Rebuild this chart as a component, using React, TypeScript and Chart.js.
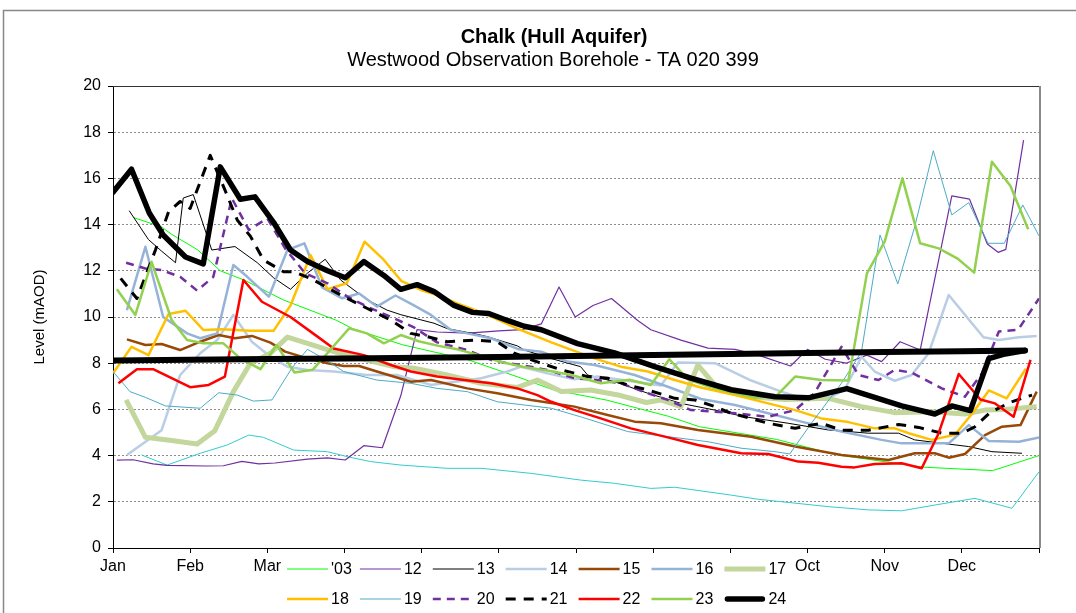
import React, { useEffect, useRef } from 'react';
import { Chart, registerables } from 'chart.js';

Chart.register(...registerables);

const FONT = '"Liberation Sans", Arial, sans-serif';

const MONTHS = ['Jan', 'Feb', 'Mar', 'Apr', 'May', 'Jun', 'Jul', 'Aug', 'Sep', 'Oct', 'Nov', 'Dec'];
const TITLE = 'Chalk (Hull Aquifer)';
const SUBTITLE = 'Westwood Observation Borehole - TA 020 399';
const Y_LABEL = 'Level (mAOD)';

// Each series: [position in months from 1 Jan, level in mAOD]
const s03: number[][] = [[0.27,14.3],[0.63,13.9],[0.75,13.6],[1.1,12.9],[1.39,12.0],[1.7,11.6],[2.2,10.75],[2.9,9.85],[3.1,9.5],[3.75,8.8],[4.6,8.15],[5.25,7.4],[5.7,6.85],[6.4,6.4],[7.2,5.7],[7.6,5.25],[8.6,4.7],[9.3,4.1],[9.45,4.0],[10.5,3.5],[11.4,3.35],[12.0,4.0]];
const s12: number[][] = [[0.05,3.8],[0.26,3.82],[0.52,3.64],[0.7,3.58],[1.22,3.55],[1.43,3.56],[1.67,3.75],[1.89,3.64],[2.1,3.68],[2.52,3.85],[2.78,3.9],[3.01,3.81],[3.25,4.43],[3.49,4.34],[3.73,6.6],[3.94,9.45],[4.2,9.35],[4.6,9.3],[5.0,9.4],[5.3,9.45],[5.55,9.7],[5.78,11.3],[5.99,10.0],[6.22,10.5],[6.46,10.8],[6.8,9.85],[6.97,9.45],[7.36,9.0],[7.71,8.65],[8.06,8.6],[8.36,8.35],[8.78,7.88],[9.0,8.6],[9.23,8.17],[9.5,8.0],[9.77,8.35],[9.96,8.07],[10.2,8.93],[10.46,8.57],[10.87,15.24],[11.1,15.1],[11.33,13.16],[11.47,12.8],[11.57,12.93],[11.8,17.66]];
const s13: number[][] = [[0.21,14.6],[0.46,13.35],[0.63,12.85],[0.81,12.35],[0.91,15.15],[1.04,15.3],[1.28,12.9],[1.58,13.05],[1.87,12.35],[2.08,11.7],[2.3,11.2],[2.52,11.9],[2.75,12.5],[2.95,11.6],[3.29,10.75],[3.55,10.3],[3.73,10.1],[4.16,9.73],[4.33,9.5],[4.72,9.25],[4.85,9.15],[5.24,8.75],[5.33,8.57],[5.68,8.2],[6.06,7.85],[6.15,7.49],[6.5,7.2],[6.93,6.7],[7.36,6.26],[7.8,5.97],[8.19,5.68],[8.75,5.4],[9.27,5.11],[9.79,4.97],[10.18,4.97],[10.39,4.68],[11.09,4.39],[11.39,4.17],[11.78,4.1]];
const s14: number[][] = [[0.18,4.03],[0.63,5.1],[0.87,7.49],[1.13,8.43],[1.35,9.0],[1.56,10.09],[1.8,8.93],[2.04,8.28],[2.26,7.85],[2.52,7.71],[2.86,7.64],[3.29,7.49],[3.68,7.49],[4.12,7.06],[4.77,7.35],[5.11,7.64],[5.29,7.85],[5.63,7.56],[5.98,7.3],[6.28,7.42],[6.76,7.2],[7.1,7.03],[7.32,8.03],[7.8,8.0],[8.27,7.25],[8.66,6.77],[9.01,6.41],[9.27,6.48],[9.48,6.85],[9.7,8.28],[9.87,7.64],[10.13,7.24],[10.35,7.49],[10.57,8.43],[10.83,10.95],[11.28,9.12],[11.48,9.0],[11.74,9.12],[11.97,9.18]];
const s15: number[][] = [[0.18,9.03],[0.42,8.79],[0.63,8.83],[0.87,8.57],[1.13,8.93],[1.37,9.22],[1.58,9.08],[1.8,9.18],[2.04,8.89],[2.23,8.5],[2.52,8.21],[2.78,8.0],[2.99,7.88],[3.19,7.88],[3.42,7.64],[3.86,7.2],[4.12,7.27],[4.59,6.91],[4.98,6.7],[5.42,6.41],[5.98,6.12],[6.41,5.76],[6.76,5.47],[7.1,5.4],[7.58,5.11],[8.27,4.82],[8.84,4.39],[9.44,4.03],[10.05,3.81],[10.39,4.1],[10.65,4.1],[10.83,3.91],[11.04,4.07],[11.3,4.89],[11.52,5.25],[11.76,5.32],[11.97,6.77]];
const s16: number[][] = [[0.18,10.3],[0.42,13.04],[0.65,10.0],[0.96,9.29],[1.13,9.08],[1.35,9.29],[1.56,12.25],[1.74,11.74],[2.02,10.88],[2.26,12.9],[2.48,13.19],[2.71,11.28],[2.97,10.81],[3.19,11.02],[3.42,10.45],[3.66,10.93],[3.9,10.5],[4.12,10.09],[4.38,9.44],[4.59,9.29],[4.9,9.08],[5.26,8.6],[5.55,8.5],[5.89,8.07],[6.24,7.92],[6.76,7.49],[7.19,6.98],[7.62,6.45],[8.06,6.19],[8.49,5.83],[8.92,5.47],[9.44,5.04],[9.96,4.68],[10.22,4.53],[10.83,4.53],[11.09,5.32],[11.35,4.63],[11.74,4.6],[12.0,4.79]];
const s17: number[][] = [[0.17,6.41],[0.42,4.79],[0.76,4.65],[1.09,4.5],[1.32,5.08],[1.56,6.77],[1.78,8.0],[2.04,8.43],[2.26,9.13],[2.52,8.86],[2.86,8.5],[3.29,8.14],[3.64,7.85],[3.9,7.78],[4.33,7.49],[4.77,7.13],[5.24,6.95],[5.5,7.27],[5.81,6.77],[6.19,6.84],[6.58,6.6],[6.91,6.3],[7.1,6.41],[7.36,6.12],[7.58,7.92],[7.84,6.9],[8.27,6.55],[8.71,6.43],[9.27,6.48],[9.7,6.12],[10.13,5.86],[10.61,5.9],[11.04,5.8],[11.3,5.97],[11.56,6.0],[11.97,6.12]];
const s18: number[][] = [[0.0,7.56],[0.24,8.71],[0.46,8.35],[0.72,10.13],[0.94,10.27],[1.17,9.44],[1.41,9.47],[1.78,9.41],[2.08,9.4],[2.3,10.5],[2.56,12.68],[2.78,11.2],[3.03,11.46],[3.26,13.26],[3.51,12.47],[3.74,11.55],[3.99,11.17],[4.2,10.95],[4.46,10.59],[4.81,10.16],[5.24,9.5],[5.68,8.9],[6.24,8.21],[6.58,7.85],[6.93,7.64],[7.28,7.27],[7.62,6.95],[8.06,6.62],[8.49,6.26],[8.84,5.97],[9.18,5.61],[9.53,5.45],[9.87,5.18],[10.13,5.18],[10.31,4.97],[10.61,4.68],[10.91,4.9],[11.13,5.8],[11.35,6.82],[11.58,6.48],[11.83,7.76]];
const s19: number[][] = [[0.0,7.64],[0.22,6.77],[0.42,6.52],[0.68,6.15],[1.13,6.05],[1.37,6.72],[1.61,6.62],[1.82,6.36],[2.06,6.41],[2.32,7.8],[2.52,8.6],[2.73,8.2],[2.99,7.64],[3.42,7.27],[3.86,7.13],[4.2,6.91],[4.59,6.77],[4.98,6.33],[5.33,6.19],[5.68,6.05],[6.06,5.68],[6.67,5.04],[7.02,4.89],[7.36,4.75],[7.71,4.6],[8.14,4.32],[8.58,4.17],[8.77,4.07],[9.05,5.4],[9.44,7.13],[9.7,8.5],[9.94,13.55],[10.17,11.43],[10.39,13.91],[10.63,17.2],[10.87,14.42],[11.09,14.95],[11.34,13.19],[11.55,13.19],[11.79,14.85],[12.0,13.51]];
const s20: number[][] = [[0.17,12.35],[0.42,12.1],[0.63,12.03],[0.87,11.74],[1.09,11.14],[1.3,11.74],[1.54,15.14],[1.76,13.77],[2.0,14.27],[2.23,12.97],[2.49,11.89],[2.78,11.46],[3.04,10.88],[3.29,10.45],[3.57,10.05],[3.9,9.55],[4.2,8.9],[4.59,8.57],[4.9,8.14],[5.11,8.0],[5.29,7.92],[5.63,7.71],[5.98,7.35],[6.28,7.27],[6.58,7.13],[6.93,6.7],[7.19,6.41],[7.49,5.97],[7.8,5.9],[8.06,5.83],[8.49,5.68],[8.84,5.97],[9.09,6.7],[9.44,8.71],[9.66,7.49],[9.92,7.27],[10.13,7.71],[10.35,7.59],[10.74,6.91],[11.04,6.55],[11.26,7.56],[11.48,9.37],[11.73,9.45],[12.0,10.8]];
const s21: number[][] = [[0.1,11.67],[0.31,10.8],[0.55,12.9],[0.72,14.56],[0.87,15.0],[1.0,14.7],[1.26,17.0],[1.45,15.5],[1.61,14.2],[1.78,13.5],[1.95,12.47],[2.21,11.96],[2.34,11.96],[2.56,11.67],[2.99,10.88],[3.29,10.38],[3.6,9.87],[3.86,9.29],[4.07,9.15],[4.33,8.93],[4.72,9.0],[4.98,8.93],[5.2,8.43],[5.46,8.1],[5.81,7.71],[6.15,7.42],[6.41,7.35],[6.67,7.06],[6.93,6.84],[7.28,6.48],[7.54,6.41],[7.8,6.12],[8.01,5.83],[8.19,5.68],[8.49,5.4],[8.84,5.18],[9.18,5.4],[9.44,5.1],[9.79,5.1],[10.18,5.35],[10.44,5.22],[10.74,4.97],[11.0,4.97],[11.17,5.25],[11.36,5.85],[11.62,6.3],[11.91,6.62]];
const s22: number[][] = [[0.07,7.13],[0.31,7.74],[0.52,7.74],[0.76,7.35],[1.0,6.96],[1.24,7.06],[1.45,7.42],[1.69,11.6],[1.93,10.66],[2.3,10.0],[2.65,9.15],[2.86,8.64],[3.25,8.35],[3.6,7.92],[3.86,7.64],[4.2,7.42],[4.55,7.27],[4.9,7.13],[5.24,6.91],[5.5,6.62],[5.68,6.33],[5.98,5.97],[6.32,5.61],[6.71,5.18],[7.15,4.82],[7.58,4.46],[8.14,4.1],[8.49,4.07],[8.88,3.74],[9.14,3.69],[9.44,3.52],[9.61,3.49],[9.87,3.64],[10.22,3.67],[10.48,3.45],[10.7,4.97],[10.96,7.53],[11.24,6.43],[11.43,6.26],[11.67,5.68],[11.89,8.14]];
const s23: number[][] = [[0.05,11.2],[0.29,10.09],[0.5,12.39],[0.76,9.87],[0.96,9.0],[1.17,8.86],[1.43,8.86],[1.65,8.21],[1.91,7.74],[2.12,8.79],[2.35,7.6],[2.59,7.72],[2.84,8.67],[3.06,9.51],[3.29,9.29],[3.51,8.86],[3.73,9.22],[3.96,8.95],[4.22,8.75],[4.46,8.6],[4.74,8.35],[5.03,8.05],[5.31,7.85],[5.68,7.65],[5.94,7.49],[6.32,7.13],[6.69,7.28],[6.97,7.06],[7.21,8.17],[7.45,7.3],[7.71,7.0],[7.97,6.77],[8.32,6.5],[8.6,6.6],[8.84,7.42],[9.18,7.27],[9.53,7.25],[9.77,11.89],[10.0,13.26],[10.23,16.0],[10.46,13.19],[10.7,12.97],[10.94,12.54],[11.16,11.92],[11.39,16.72],[11.63,15.67],[11.86,13.8]];
const s24: number[][] = [[0.0,15.4],[0.24,16.4],[0.47,14.5],[0.65,13.55],[0.94,12.6],[1.17,12.3],[1.39,16.5],[1.65,15.1],[1.84,15.2],[2.08,14.1],[2.3,12.9],[2.52,12.4],[2.78,12.0],[3.01,11.7],[3.25,12.4],[3.51,11.8],[3.73,11.2],[3.94,11.4],[4.16,11.1],[4.42,10.5],[4.66,10.2],[4.87,10.15],[5.11,9.85],[5.33,9.6],[5.55,9.45],[6.02,8.85],[6.5,8.45],[7.02,7.85],[7.49,7.35],[8.01,6.85],[8.58,6.55],[9.01,6.5],[9.51,6.9],[10.22,6.15],[10.65,5.8],[10.87,6.15],[11.11,5.95],[11.35,8.2],[11.56,8.4],[11.82,8.55]];
const sLow: number[][] = [[0.37,4.03],[0.7,3.59],[1.13,4.1],[1.48,4.46],[1.76,4.89],[1.95,4.79],[2.34,4.24],[2.78,4.17],[3.04,3.95],[3.34,3.74],[3.73,3.59],[4.33,3.45],[4.77,3.45],[5.42,3.23],[6.06,2.94],[6.5,2.8],[6.97,2.58],[7.28,2.63],[8.01,2.29],[8.36,2.11],[9.27,1.79],[9.79,1.65],[10.22,1.61],[10.65,1.86],[11.17,2.15],[11.65,1.72],[12.0,3.3]];
const sAvg: number[][] = [[0,8.12],[1,8.15],[2,8.18],[3,8.2],[4,8.24],[5,8.27],[6,8.31],[7,8.36],[8,8.4],[9,8.44],[10,8.48],[11,8.52],[11.82,8.55]];

type Style = { label: string; data: number[][]; color: string; width: number; dash?: number[]; cap?: CanvasLineCap; legend: boolean };

const SERIES: Style[] = [
  { label: 'low', data: sLow, color: '#33CCCC', width: 1, legend: false },
  { label: "'03", data: s03, color: '#00FF00', width: 1, legend: true },
  { label: '12', data: s12, color: '#7030A0', width: 1.2, legend: true },
  { label: '13', data: s13, color: '#000000', width: 1, legend: true },
  { label: '14', data: s14, color: '#B9CDE5', width: 2.5, legend: true },
  { label: '15', data: s15, color: '#984807', width: 2.5, legend: true },
  { label: '16', data: s16, color: '#95B3D7', width: 2.5, legend: true },
  { label: '17', data: s17, color: '#C3D69B', width: 5, legend: true },
  { label: '18', data: s18, color: '#FFC000', width: 2.5, legend: true },
  { label: '19', data: s19, color: '#4BACC6', width: 1, legend: true },
  { label: '20', data: s20, color: '#7030A0', width: 2.5, dash: [8, 6], legend: true },
  { label: '21', data: s21, color: '#000000', width: 3, dash: [10, 8], legend: true },
  { label: '22', data: s22, color: '#FF0000', width: 2.5, legend: true },
  { label: '23', data: s23, color: '#92D050', width: 2.5, legend: true },
  { label: 'avg', data: sAvg, color: '#000000', width: 6, cap: 'round', legend: false },
  { label: '24', data: s24, color: '#000000', width: 5.5, cap: 'round', legend: true },
];

const decor = {
  id: 'decor',
  beforeDraw(chart: any) {
    const ctx = chart.ctx;
    ctx.save();
    ctx.fillStyle = '#ffffff';
    ctx.fillRect(0, 0, chart.width, chart.height);
    ctx.restore();
  },
  afterDraw(chart: any) {
    const ctx: CanvasRenderingContext2D = chart.ctx;
    const a = chart.chartArea;
    ctx.save();
    // outer frame
    ctx.strokeStyle = '#888888';
    ctx.lineWidth = 1.5;
    ctx.beginPath();
    ctx.moveTo(3.5, chart.height);
    ctx.lineTo(3.5, 10.5);
    ctx.lineTo(chart.width, 10.5);
    ctx.stroke();
    // plot border
    ctx.strokeStyle = '#333333';
    ctx.lineWidth = 1;
    ctx.beginPath();
    ctx.moveTo(a.left, a.top + 0.5);
    ctx.lineTo(a.right, a.top + 0.5);
    ctx.stroke();
    ctx.strokeStyle = '#8a8a8a';
    ctx.lineWidth = 2;
    ctx.beginPath();
    ctx.moveTo(a.right + 1, a.top);
    ctx.lineTo(a.right + 1, a.bottom);
    ctx.stroke();
    // titles
    ctx.fillStyle = '#000000';
    ctx.textAlign = 'center';
    ctx.textBaseline = 'middle';
    ctx.font = `bold 20px ${FONT}`;
    ctx.fillText(TITLE, 554, 37);
    ctx.font = `20px ${FONT}`;
    ctx.fillText(SUBTITLE, 553, 60);
    // y axis title
    ctx.save();
    ctx.translate(40, 317);
    ctx.rotate(-Math.PI / 2);
    ctx.font = `15px ${FONT}`;
    ctx.fillText(Y_LABEL, 0, 0);
    ctx.restore();
    // legend
    ctx.fillStyle = '#ffffff';
    ctx.fillRect(284, 556, 507, 57);
    const items = SERIES.filter((s) => s.legend);
    items.forEach((s, i) => {
      const col = i % 7;
      const row = Math.floor(i / 7);
      const x0 = 287 + col * 72.9;
      const y = row === 0 ? 569 : 599;
      ctx.save();
      ctx.strokeStyle = s.color;
      ctx.lineWidth = s.width;
      ctx.lineCap = s.cap || 'butt';
      ctx.setLineDash(s.dash || []);
      ctx.beginPath();
      ctx.moveTo(x0 + (s.cap === 'round' ? 3 : 0), y);
      ctx.lineTo(x0 + 41 - (s.cap === 'round' ? 3 : 0), y);
      ctx.stroke();
      ctx.restore();
      ctx.fillStyle = '#000000';
      ctx.textAlign = 'left';
      ctx.font = `16px ${FONT}`;
      ctx.fillText(s.label, x0 + 44, y + 1);
    });
    ctx.restore();
  },
};

export default function App() {
  const ref = useRef<HTMLCanvasElement | null>(null);
  useEffect(() => {
    if (!ref.current) return;
    const n = SERIES.length;
    const chart = new Chart(ref.current, {
      type: 'line',
      data: {
        datasets: SERIES.map((s, i) => ({
          label: s.label,
          data: s.data.map(([x, y]) => ({ x, y })),
          borderColor: s.color,
          backgroundColor: s.color,
          borderWidth: s.width,
          borderDash: s.dash || [],
          borderCapStyle: s.cap || 'butt',
          borderJoinStyle: 'round',
          pointRadius: 0,
          fill: false,
          tension: 0,
          order: n - i,
        })),
      },
      options: {
        animation: false,
        responsive: false,
        devicePixelRatio: 1,
        events: [],
        layout: { padding: { left: 0, top: 86, right: 37, bottom: 0 } },
        plugins: { legend: { display: false }, tooltip: { enabled: false }, title: { display: false } },
        scales: {
          x: {
            type: 'linear',
            min: 0,
            max: 12,
            afterFit: (s: any) => { s.height = 65; },
            ticks: {
              stepSize: 1,
              autoSkip: false,
              maxRotation: 0,
              padding: 4,
              color: '#000',
              font: { family: FONT, size: 16 },
              callback: (v: any) => MONTHS[v as number] ?? '',
            },
            grid: { drawOnChartArea: false, drawTicks: true, tickLength: 5, color: '#000', tickColor: '#000' },
            border: { display: true, color: '#000', width: 1 },
          },
          y: {
            min: 0,
            max: 20,
            afterFit: (s: any) => { s.width = 113; },
            ticks: {
              stepSize: 2,
              padding: 7,
              color: '#000',
              font: { family: FONT, size: 16 },
            },
            grid: { color: '#8c8c8c', tickLength: 5, tickColor: '#000', lineWidth: 1, drawOnChartArea: true },
            border: { display: true, color: '#000', width: 1, dash: [2, 2] },
          },
        },
      },
      plugins: [decor],
    } as any);
    return () => chart.destroy();
  }, []);
  return (
    <div style={{ position: 'fixed', left: 0, top: 0, width: 1076, height: 613, background: '#fff' }}>
      <canvas ref={ref} width={1076} height={613} style={{ display: 'block' }} />
    </div>
  );
}
